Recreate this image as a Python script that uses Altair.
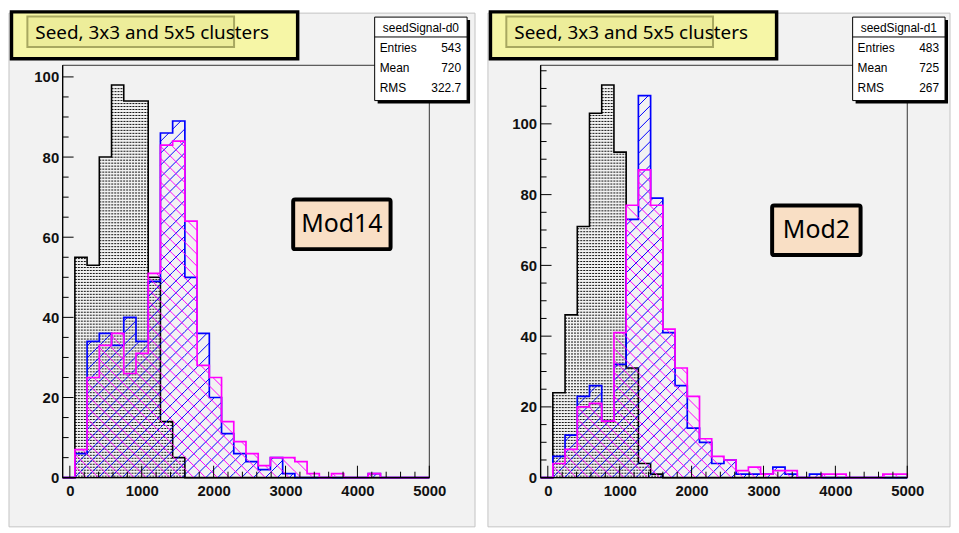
import altair as alt
import pandas as pd
import math

# ---------------- data ----------------
XMIN, XMAX, NBINS = -100, 5000, 30
BIN_W = (XMAX - XMIN) / NBINS

left_seed = [0, 55, 53, 80, 98, 94, 94, 50, 14, 5] + [0] * 20
left_blue = [0, 6, 34, 36, 33, 40, 34, 49, 86, 89, 50, 36, 20, 11, 6, 4, 2, 5, 1, 0,
             0, 0, 0, 0, 0, 1, 0, 0, 0, 0]
left_magenta = [0, 7, 25, 33, 36, 26, 31, 51, 83, 84, 64, 28, 25, 14, 9, 6, 3, 5, 5, 4,
                1, 0, 1, 0, 0, 1, 0, 0, 0, 0]

right_seed = [0, 24, 46, 71, 103, 111, 92, 31, 4, 1] + [0] * 20
right_blue = [0, 6, 12, 23, 26, 16, 32, 73, 108, 79, 41, 26, 14, 10, 4, 5, 1, 1, 1, 3,
              1, 0, 1, 0, 0, 0, 0, 0, 0, 0]
right_magenta = [0, 4, 8, 20, 21, 16, 41, 77, 87, 77, 42, 31, 23, 11, 6, 5, 2, 3, 1, 2,
                 2, 0, 0, 1, 1, 0, 0, 0, 1, 1]

x_tick_labels = [0, 1000, 2000, 3000, 4000, 5000]
y_tick_labels = [0, 20, 40, 60, 80, 100]

left_stats = {"name": "seedSignal-d0", "Entries": "543", "Mean": "720", "RMS": "322.7"}
right_stats = {"name": "seedSignal-d1", "Entries": "483", "Mean": "725", "RMS": "267"}
title_text = "Seed, 3x3 and 5x5 clusters"
left_label = "Mod14"
right_label = "Mod2"

# ---------------- layout / style ----------------
W, H = 369, 415
EDGES = [XMIN + BIN_W * k for k in range(NBINS + 1)]
BLUE = "#0000ff"
MAGENTA = "#ff00ff"
HAND_FONT = "Noto Sans"
AX_FONT = "Liberation Sans"

one = pd.DataFrame({"a": [0]})

XSCALE = alt.Scale(domain=[XMIN, XMAX], nice=False, zero=False)

AXIS_X = alt.Axis(values=x_tick_labels, ticks=False, domain=False, grid=False, title=None,
                  format="d", labelFont=AX_FONT, labelFontSize=15, labelFontWeight="bold",
                  labelColor="#111", labelPadding=6, labelFlush=False, zindex=2)
AXIS_Y = alt.Axis(values=y_tick_labels, ticks=False, domain=False, grid=False, title=None,
                  format="d", labelFont=AX_FONT, labelFontSize=15, labelFontWeight="bold",
                  labelColor="#111", labelPadding=4, zindex=2)


def X(field):
    return alt.X(field, type="quantitative", scale=XSCALE, axis=AXIS_X)


def Y(field, ymax):
    return alt.Y(field, type="quantitative",
                 scale=alt.Scale(domain=[0, ymax], nice=False, zero=True), axis=AXIS_Y)


def outline_df(counts):
    rows = [(EDGES[0], 0, 0)]
    o = 1
    for k, c in enumerate(counts):
        rows.append((EDGES[k], c, o)); o += 1
        rows.append((EDGES[k + 1], c, o)); o += 1
    rows.append((EDGES[-1], 0, o))
    return pd.DataFrame(rows, columns=["x", "y", "o"])


def hatch_df(counts, ymax, direction, spacing=12.0):
    sx = W / (XMAX - XMIN)
    sy = H / ymax
    segs = []
    for k, c in enumerate(counts):
        if c <= 0:
            continue
        xl = (EDGES[k] - XMIN) * sx
        xr = (EDGES[k + 1] - XMIN) * sx
        h = c * sy
        if direction > 0:
            j0, j1 = math.floor((xl - h) / spacing) - 1, math.ceil(xr / spacing) + 1
        else:
            j0, j1 = math.floor(xl / spacing) - 1, math.ceil((xr + h) / spacing) + 1
        for j in range(j0, j1 + 1):
            cc = j * spacing
            if direction > 0:
                a, b = max(xl, cc), min(xr, cc + h)
                ya, yb = a - cc, b - cc
            else:
                a, b = max(xl, cc - h), min(xr, cc)
                ya, yb = cc - a, cc - b
            if b - a > 0.05:
                segs.append((XMIN + a / sx, ya / sy, XMIN + b / sx, yb / sy))
    return pd.DataFrame(segs, columns=["x", "y", "x2", "y2"])


def dots_df(counts, ymax, step=3.0):
    sy = H / ymax
    rows = []
    maxh = max(counts) * sy
    r = 1.5
    while r < maxh - 0.5:
        start = None
        for k in range(NBINS + 1):
            inside = k < NBINS and counts[k] * sy >= r + 0.8
            if inside and start is None:
                start = k
            if (not inside) and start is not None:
                rows.append((EDGES[start], EDGES[k], r / sy))
                start = None
        r += step
    return pd.DataFrame(rows, columns=["x", "x2", "y"])


def tick_df(vals, lo, hi):
    return pd.DataFrame({"v": [v for v in vals if lo <= v <= hi]})


def rect_value(x, y, x2, y2, **kw):
    return alt.Chart(one).mark_rect(**kw).encode(
        x=alt.value(x), y=alt.value(y), x2=alt.value(x2), y2=alt.value(y2))


def text_value(txt, x, y, **kw):
    return alt.Chart(one).mark_text(**kw).encode(
        x=alt.value(x), y=alt.value(y), text=alt.value(txt))


def panel(seed, blue, mag, stats, label, canvas, label_box):
    ymax = 1.05 * max(seed + blue + mag)
    layers = []
    cx0, cx1 = canvas
    # pad background
    layers.append(rect_value(cx0, -52.5, cx1, 464.5, fill="#f2f2f2", stroke="#c4c4c4",
                             strokeWidth=1))
    # black dotted fill (rows of dashes)
    d = dots_df(seed, ymax)
    layers.append(alt.Chart(d).mark_rule(color="#111", strokeWidth=1,
                                         strokeDash=[2, 1]).encode(
        x=X("x"), x2="x2", y=Y("y", ymax)))
    layers.append(alt.Chart(outline_df(seed)).mark_line(color="black", strokeWidth=1.6).encode(
        x=X("x"), y=Y("y", ymax), order="o:Q"))
    # blue
    layers.append(alt.Chart(hatch_df(blue, ymax, +1)).mark_rule(color=BLUE, strokeWidth=1).encode(
        x=X("x"), y=Y("y", ymax), x2="x2", y2="y2"))
    layers.append(alt.Chart(outline_df(blue)).mark_line(color=BLUE, strokeWidth=1.7).encode(
        x=X("x"), y=Y("y", ymax), order="o:Q"))
    # magenta
    layers.append(alt.Chart(hatch_df(mag, ymax, -1)).mark_rule(color=MAGENTA, strokeWidth=1).encode(
        x=X("x"), y=Y("y", ymax), x2="x2", y2="y2"))
    layers.append(alt.Chart(outline_df(mag)).mark_line(color=MAGENTA, strokeWidth=1.7).encode(
        x=X("x"), y=Y("y", ymax), order="o:Q"))
    # frame
    layers.append(rect_value(0, 0, W, H, fill="transparent", stroke="#333", strokeWidth=1))
    layers.append(alt.Chart(one).mark_rule(color="black", strokeWidth=1.3).encode(
        x=alt.value(0), y=alt.value(0), y2=alt.value(H)))
    layers.append(alt.Chart(one).mark_rule(color="black", strokeWidth=1.3).encode(
        x=alt.value(0), x2=alt.value(W), y=alt.value(H)))
    # ticks
    ymaj = tick_df(y_tick_labels, 0, ymax)
    ymin = tick_df([v for v in range(0, 200, 5) if v % 20 != 0], 0, ymax)
    xmaj = tick_df(x_tick_labels, XMIN, XMAX)
    xmin_ = tick_df([v for v in range(0, 5001, 200) if v % 1000 != 0], XMIN, XMAX)
    layers.append(alt.Chart(ymaj).mark_rule(color="black", strokeWidth=1).encode(
        y=Y("v", ymax), x=alt.value(0), x2=alt.value(11)))
    layers.append(alt.Chart(ymin).mark_rule(color="black", strokeWidth=1).encode(
        y=Y("v", ymax), x=alt.value(0), x2=alt.value(6)))
    layers.append(alt.Chart(xmaj).mark_rule(color="black", strokeWidth=1).encode(
        x=X("v"), y=alt.value(H), y2=alt.value(H - 12)))
    layers.append(alt.Chart(xmin_).mark_rule(color="black", strokeWidth=1).encode(
        x=X("v"), y=alt.value(H), y2=alt.value(H - 6)))
    # stats box
    bx0, bx1, by0, by1 = 314, 407, -48.5, 35.5
    layers.append(rect_value(bx0 + 3, by0 + 3, bx1 + 3, by1 + 3, fill="black"))
    layers.append(rect_value(bx0, by0, bx1, by1, fill="white", stroke="black", strokeWidth=1))
    layers.append(alt.Chart(one).mark_rule(color="black", strokeWidth=1).encode(
        x=alt.value(bx0), x2=alt.value(bx1), y=alt.value(by0 + 20)))
    layers.append(text_value(stats["name"], (bx0 + bx1) / 2, by0 + 10.5, font=AX_FONT,
                             fontSize=12, align="center", baseline="middle", color="black"))
    for i, key in enumerate(["Entries", "Mean", "RMS"]):
        yy = by0 + 31.5 + i * 20
        layers.append(text_value(key, bx0 + 5, yy, font=AX_FONT, fontSize=12,
                                 align="left", baseline="middle", color="black"))
        layers.append(text_value(stats[key], bx1 - 6, yy, font=AX_FONT, fontSize=12,
                                 align="right", baseline="middle", color="black"))
    # title box
    tx0 = cx0 + 2.5
    layers.append(rect_value(tx0, -53.75, tx0 + 288, -6.5, fill="#f6f6a6", stroke="black",
                             strokeWidth=3.5))
    layers.append(rect_value(tx0 + 16, -49, tx0 + 224, -18.5, fill="#eded9a",
                             stroke="#a8a860", strokeWidth=2))
    layers.append(text_value(title_text, tx0 + 24, -32, font=HAND_FONT, fontSize=19,
                             align="left", baseline="middle", color="black"))
    # module label box
    lx0, ly0, lx1, ly1 = label_box
    layers.append(rect_value(lx0, ly0, lx1, ly1, fill="#f9dfc5", stroke="black",
                             strokeWidth=4, cornerRadius=2))
    layers.append(text_value(label, (lx0 + lx1) / 2, (ly0 + ly1) / 2, font=HAND_FONT,
                             fontSize=25, align="center", baseline="middle", color="black"))
    return alt.layer(*layers).properties(width=W, height=H)


left = panel(left_seed, left_blue, left_magenta, left_stats, left_label,
             (-54, 415), (232, 135, 330, 185))
right = panel(right_seed, right_blue, right_magenta, right_stats, right_label,
              (-53, 412), (233, 141, 322, 191))

chart = alt.hconcat(left, right, spacing=112, bounds="flush").configure_view(
    stroke=None).properties(padding=0, background="white")

chart.save("out.html", embed_options={"renderer": "svg", "actions": False})
